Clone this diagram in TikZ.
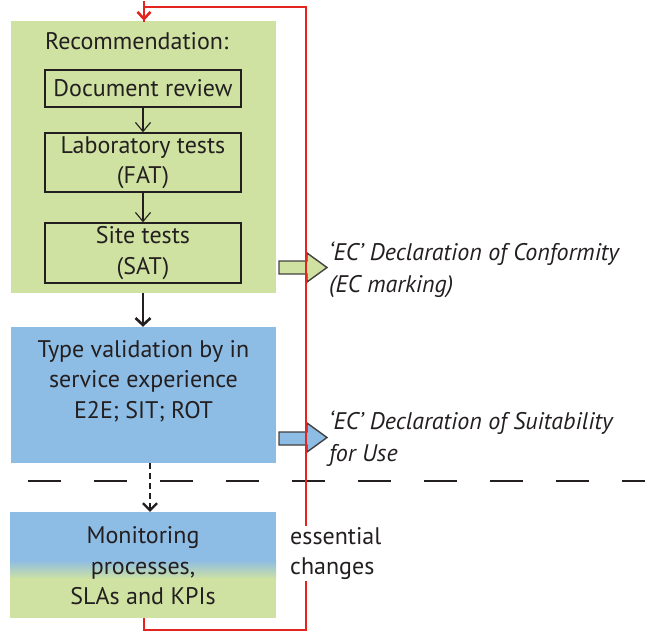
\documentclass[tikz,border=0pt]{standalone}
\usepackage{fontspec}
\setmainfont{PT Sans}
\usetikzlibrary{arrows.meta}
\definecolor{recgreen}{HTML}{CFE2A1}
\definecolor{valblue}{HTML}{8DBCE4}
\definecolor{loopred}{HTML}{E52420}
\definecolor{ink}{HTML}{231F20}
\tikzset{
  txt/.style={font=\fontsize{24}{30.5}\selectfont, text=ink, align=center, inner sep=0pt},
  stepbox/.style={draw=ink, line width=1.4pt, minimum width=196pt, inner sep=0pt,
    font=\fontsize{24}{30.5}\selectfont, text=ink, align=center},
  thin arrow/.style={draw=ink, line width=1.1pt, -{Straight Barb[length=9pt,width=15pt]}},
  main arrow/.style={draw=ink, line width=2.6pt, -{Straight Barb[length=7pt,width=15pt]}},
  block arrow/.style={draw=ink!85, line width=1.4pt},
  note/.style={font=\fontsize{24}{31.5}\selectfont\itshape, text=ink, align=left, inner sep=0pt, anchor=base west},
  loop/.style={loopred, line width=2.6pt},
}
\begin{document}
\begin{tikzpicture}[x=1pt, y=-1pt]
\useasboundingbox (0,0) rectangle (645,632);

% recommendation block with its three steps
\node[fill=recgreen, minimum width=265pt, minimum height=272pt, inner sep=0pt] (rec) at (143.5,157) {};
\node[txt, anchor=base west] (rectitle) at (45,49) {Recommendation:};
\node[stepbox, minimum height=37pt] (doc) at (143,88.5) {Document review};
\node[stepbox, minimum height=59pt] (lab) at (143,162.5) {Laboratory tests\\(FAT)};
\node[stepbox, minimum height=60pt] (site) at (143,253) {Site tests\\(SAT)};
\draw[thin arrow] (doc) -- (lab);
\draw[thin arrow] (lab) -- (site);

% type validation block
\node[fill=valblue, minimum width=265pt, minimum height=136pt, inner sep=0pt] (val) at (143.5,395) {};
\node[txt] (valtext) at (143.5,381) {Type validation by in\\service experience\\E2E; SIT; ROT};
\draw[main arrow] (rec.south -| doc.south) -- (val.north -| doc.south);

% monitoring block, blue fading into green
\fill[valblue] (10,512) rectangle (276,561);
\shade[top color=valblue, bottom color=recgreen] (10,560) rectangle (276,579);
\fill[recgreen] (10,578) rectangle (276,618);
\node[minimum width=266pt, minimum height=106pt, inner sep=0pt] (mon) at (143,565) {};
\node[txt] (montext) at (143,566) {Monitoring\\processes,\\SLAs and KPIs};

% separator line
\draw[ink, line width=2.6pt, dash pattern=on 33pt off 33pt] (28,481) -- (645,481);

% dashed arrow into monitoring
\coordinate (dtop) at (150,463);
\draw[draw=ink, line width=2.3pt, dash pattern=on 6pt off 4pt, -{Straight Barb[length=7pt,width=14pt]}]
  (dtop) -- (dtop |- mon.north);

% declaration arrows
\draw[block arrow, fill=recgreen] (279,261) -- (307,261) -- (307,253) -- (327,267.5)
  -- (307,282) -- (307,274) -- (279,274) -- cycle;
\draw[block arrow, fill=valblue] (279,432) -- (307,432) -- (307,423) -- (327,437.5)
  -- (307,452) -- (307,445) -- (279,445) -- cycle;

% feedback loop for essential changes
\coordinate (lb) at (144,630);
\coordinate (rb) at (306,630);
\coordinate (rt) at (306,7);
\coordinate (lt) at (144,7);
\draw[loop] (mon.south -| lb) -- (lb) -- (rb) -- (rt) -- (lt)
  -- ([yshift=-1pt]rec.north -| lt);
\draw[loop, -{Straight Barb[length=7pt,width=13pt]}] ([yshift=6pt]lt) -- (rec.north -| lt);
\node[txt, fill=white, align=left, anchor=north west, inner ysep=1pt, inner xsep=0pt] (ess) at (290,526)
  {essential\\changes};

% declaration texts
\node[note] (conf) at (329,292) {‘EC’ Declaration of Conformity\\(EC marking)};
\node[note] (suit) at (329,461) {‘EC’ Declaration of Suitability\\for Use};
\end{tikzpicture}
\end{document}
